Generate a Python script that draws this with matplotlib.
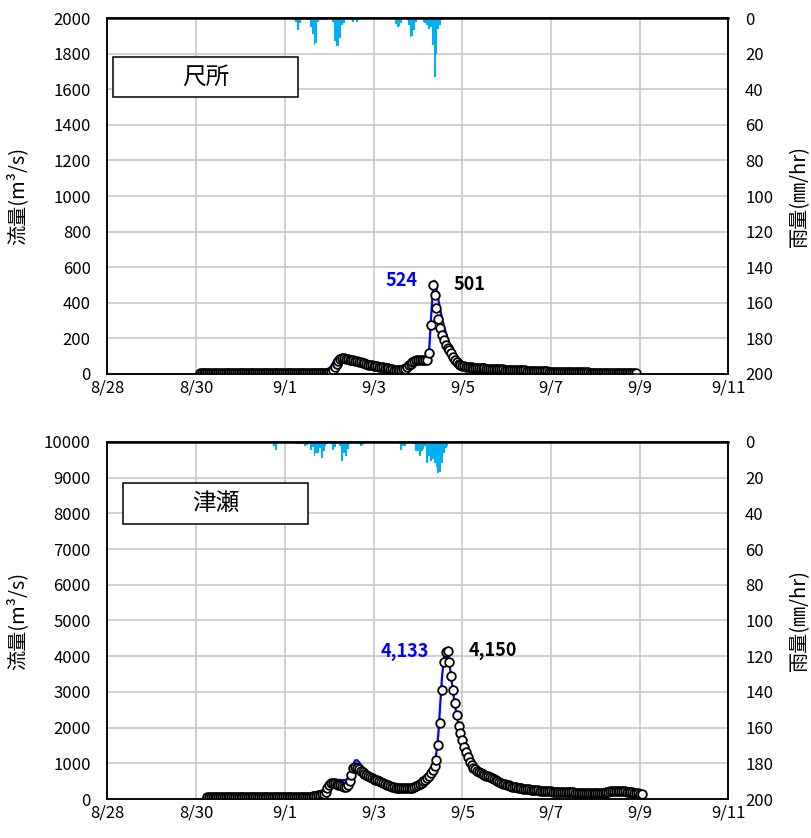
import pandas as pd
import matplotlib
matplotlib.use("Agg")
import matplotlib.pyplot as plt
import matplotlib.dates as mdates
from matplotlib.patches import Rectangle
from matplotlib.ticker import FuncFormatter

plt.rcParams['font.family'] = ['Noto Sans CJK JP', 'DejaVu Sans']

# ---- 尺所 (hourly) ----
shaku_obs_start = "2022-08-30 02:00"
shaku_obs = [
    6, 6, 6, 6, 6, 6, 6, 6, 6, 6, 6, 6, 6, 6, 6, 6, 6, 6, 6, 6, 6, 6,
    6, 6, 6, 6, 6, 5, 5, 5, 5, 5, 5, 5, 5, 5, 5, 5, 5, 5, 5, 5, 5, 5,
    5, 5, 5, 5, 5, 5, 5, 5, 5, 5, 5, 5, 5, 5, 5, 5, 5, 5, 5, 5, 5, 5, 5, 5,
    6, 7, 9, 14, 22, 40, 58, 75, 86, 90, 88, 85, 82, 80, 78, 76, 74, 71, 68, 65, 62, 59, 56, 53,
    51, 49, 47, 45, 43, 41, 39, 37, 35, 33, 31, 29, 27, 25, 24, 23, 23, 24, 26, 30, 38, 48, 58, 66,
    72, 76, 78, 79, 79, 79, 79, 80, 118, 275, 501, 444, 369, 309, 258, 219, 191, 163, 146, 135, 116, 97, 79, 65,
    57, 50, 46, 43, 41, 39, 38, 37, 36, 35, 34, 33, 32, 31, 31, 30, 30, 29, 29, 28, 28, 27, 27, 26,
    26, 25, 25, 24, 24, 23, 23, 22, 22, 21, 21, 20, 20, 19, 19, 18, 18, 17, 17, 16, 16, 16, 15, 15,
    15, 14, 14, 14, 13, 13, 13, 12, 12, 12, 11, 11, 11, 11, 10, 10, 10, 10, 9, 9, 9, 9, 9, 8,
    8, 8, 8, 8, 8, 8, 7, 7, 7, 7, 7, 7, 7, 7, 7, 6, 6, 6, 6, 6, 6, 6, 6, 6,
    6,
]
shaku_calc_start = "2022-08-30 02:00"
shaku_calc = [
    5, 5, 5, 5, 5, 5, 5, 5, 5, 5, 5, 5, 5, 5, 5, 5, 5, 5, 5, 5, 5, 5,
    5, 5, 5, 5, 5, 5, 5, 5, 5, 5, 5, 5, 5, 5, 5, 5, 5, 5, 5, 5, 5, 5,
    5, 5, 5, 5, 5, 5, 5, 5, 5, 5, 5, 5, 5, 5, 5, 5, 5, 5, 12, 22, 26, 26, 25, 24,
    23, 25, 32, 45, 62, 80, 94, 103, 107, 106, 100, 94, 89, 85, 81, 78, 75, 72, 69, 66, 63, 60, 57, 54,
    52, 50, 48, 46, 44, 42, 40, 38, 36, 34, 32, 30, 28, 27, 26, 25, 25, 26, 28, 32, 40, 50, 60, 68,
    74, 78, 80, 81, 81, 81, 81, 83, 120, 300, 460, 524, 480, 420, 365, 315, 272, 235, 200, 170, 145, 125, 108, 94,
    82, 72, 64, 58, 53, 49, 46, 43, 41, 39, 38, 36, 35, 34, 33, 32, 31, 30, 30, 29, 29, 28, 28, 27,
    27, 26, 26, 25, 25, 24, 24, 23, 23, 22, 22, 21, 21, 20, 20, 19, 19, 18, 18, 17, 17, 17, 16, 16,
    16, 15, 15, 15, 14, 14, 14, 13, 13, 13, 12, 12, 12, 12, 11, 11, 11, 11, 10, 10, 10, 10, 10, 9,
    9, 9, 9, 9, 9, 9, 8, 8, 8, 8, 8, 8, 8, 8, 8, 7, 7, 7, 7, 7, 7, 7, 7, 7,
    7,
]
shaku_rain_start = "2022-09-01 04:00"
shaku_rain = [
    0.5, 1, 2, 7, 3, 1, 0, 0.5, 1, 1, 5, 9, 15, 14, 2, 1, 0.5, 1, 0.5, 1, 0.5, 0, 2, 13,
    16, 16, 11, 4, 3, 0.5, 0, 0.5, 1, 2, 1, 2, 1, 0.5, 0, 0, 0, 0, 0, 0, 0, 0, 0, 0,
    0, 0, 0, 0, 0, 0, 0, 0.5, 3.5, 5, 4.5, 3, 0.5, 0, 1, 4, 10.5, 10, 7, 2, 0.5, 0, 0.5, 2,
    3, 4, 6, 5, 15, 33, 20, 6, 4, 1, 0.5,
]

# ---- 津瀬 (hourly) ----
tsuze_obs_start = "2022-08-30 06:00"
tsuze_obs = [
    50, 50, 50, 50, 50, 50, 50, 50, 50, 50, 50, 50, 50, 50, 50, 50, 50, 50,
    50, 50, 50, 50, 50, 51, 51, 51, 51, 51, 51, 51, 52, 52, 52, 52, 52, 52, 53, 53, 53, 53, 53, 53,
    54, 54, 55, 55, 56, 56, 57, 58, 59, 60, 61, 62, 63, 65, 68, 72, 78, 88, 100, 115, 130, 150, 200, 300,
    400, 450, 457, 440, 420, 400, 385, 365, 350, 345, 380, 500, 680, 880, 905, 880, 840, 790, 745, 705, 675, 645, 618, 592,
    568, 545, 520, 497, 475, 452, 430, 405, 385, 365, 345, 330, 318, 308, 302, 298, 296, 295, 295, 298, 302, 315, 335, 360,
    390, 425, 460, 495, 540, 590, 650, 720, 800, 920, 1092, 1512, 2120, 3053, 3846, 4126, 4150, 3846, 3445, 3053, 2680, 2353, 2045, 1840,
    1653, 1465, 1325, 1185, 1045, 952, 880, 830, 790, 755, 725, 700, 675, 655, 635, 615, 595, 570, 540, 510, 480, 455, 432, 412,
    395, 380, 365, 350, 338, 326, 315, 305, 296, 288, 281, 274, 267, 261, 255, 250, 246, 242, 238, 234, 230, 226, 222, 218,
    213, 208, 205, 203, 200, 198, 196, 194, 192, 190, 188, 186, 184, 182, 180, 178, 177, 176, 175, 174, 172, 170, 168, 166,
    165, 164, 163, 162, 160, 170, 190, 205, 215, 222, 228, 232, 232, 230, 225, 218, 212, 205, 200, 195, 188, 180, 170, 160,
    150, 140,
]
tsuze_calc_start = "2022-08-30 06:00"
tsuze_calc = [
    48, 48, 48, 48, 48, 48, 48, 48, 48, 48, 48, 48, 48, 48, 48, 48, 48, 48,
    49, 49, 49, 49, 49, 50, 50, 50, 50, 50, 50, 50, 51, 51, 51, 51, 51, 51, 52, 52, 52, 52, 52, 52,
    53, 53, 54, 54, 55, 55, 56, 57, 58, 59, 60, 61, 62, 64, 67, 71, 77, 80, 95, 120, 160, 220, 300, 380,
    450, 490, 515, 528, 533, 535, 535, 532, 530, 535, 560, 650, 820, 980, 1080, 1090, 1040, 970, 910, 860, 815, 770, 725, 680,
    640, 600, 565, 530, 500, 470, 442, 415, 390, 368, 350, 335, 322, 312, 305, 300, 298, 297, 298, 302, 310, 322, 340, 362,
    390, 420, 455, 495, 540, 595, 660, 740, 850, 1020, 1300, 1800, 2600, 3400, 3950, 4133, 4080, 3800, 3400, 3000, 2640, 2330, 2060, 1840,
    1660, 1500, 1360, 1230, 1110, 1010, 930, 865, 815, 775, 742, 712, 685, 660, 638, 616, 595, 573, 548, 520, 492, 466, 442, 420,
    401, 384, 368, 353, 340, 328, 317, 307, 298, 290, 283, 276, 269, 263, 257, 252, 248, 244, 240, 236, 232, 228, 224, 220,
    215, 210, 207, 204, 202, 200, 198, 196, 194, 192, 190, 188, 186, 184, 182, 180, 179, 178, 177, 176, 174, 172, 170, 168,
    167, 166, 165, 164, 162, 168, 185, 200, 212, 220, 226, 230, 231, 229, 224, 218, 211, 205, 199, 194, 187, 179, 170, 161,
    151, 141,
]
tsuze_rain_start = "2022-08-31 16:00"
tsuze_rain = [
    0.5, 0.5, 2, 4.5, 1, 0.5, 0.3, 0.3,
    0.5, 0.5, 0.5, 0.5, 0.5, 0.5, 1, 1.3, 1.3, 1, 1.3, 2.2, 1.5, 1, 4.3, 3, 7.8, 6, 6, 3.4, 8.8, 5, 2, 1,
    0.5, 1, 4.3, 3, 1, 0.5, 2, 10.7, 6, 7.8, 4, 1, 0.5, 0.5, 0.5, 0.5, 1, 2.2, 1.5, 1, 0.5, 0.3, 0.3, 0.3,
    0.3, 0.3, 0.3, 0, 0, 0, 0, 0, 0, 0, 0.3, 0.3, 0.3, 0.3, 1, 4.3, 2, 2.2, 1, 0.5, 0.5, 0.5, 1, 5.2,
    5, 8, 5, 4, 2, 11.6, 8, 10.8, 9.7, 11.6, 14, 17.4, 16.8, 11.8, 6, 3.4, 2, 0.5,
]

x_start, x_end = "2022-08-28", "2022-09-11"
date_ticks = pd.date_range(x_start, x_end, freq="2D")

RAIN_COLOR = "#00B0F0"
CALC_COLOR = "#0000FF"
GRID_COLOR = "#C8C8C8"


def hourly(start, values):
    return pd.date_range(start, periods=len(values), freq="h")


def month_day(x, pos=None):
    d = mdates.num2date(x)
    return f"{d.month}/{d.day}"


def draw_panel(ax, name, box, obs_start, obs, calc_start, calc,
               rain_start, rain, ymax, ystep):
    obs_t = hourly(obs_start, obs)
    calc_t = hourly(calc_start, calc)
    rain_t = hourly(rain_start, rain)

    ax.plot(calc_t, calc, color=CALC_COLOR, lw=1.6, zorder=3)
    ax.plot(obs_t, obs, ls="none", marker="o", ms=6.2, mfc="white",
            mec="black", mew=1.3, zorder=4)

    ax.set_xlim(pd.Timestamp(x_start), pd.Timestamp(x_end))
    ax.set_xticks(date_ticks)
    ax.xaxis.set_major_formatter(FuncFormatter(month_day))
    ax.set_ylim(0, ymax)
    ax.set_yticks(range(0, ymax + 1, ystep))
    ax.grid(True, color=GRID_COLOR, lw=1.2)
    ax.set_axisbelow(True)
    ax.tick_params(length=0, labelsize=12)
    ax.tick_params(axis="y", pad=12)
    ax.tick_params(axis="x", pad=4)
    for s in ax.spines.values():
        s.set_linewidth(1.1)
    ax.set_ylabel("流量(m³/s)", fontsize=14.5)
    ax.yaxis.set_label_coords(-0.128, 0.5)

    # peak values
    i_c = max(range(len(calc)), key=lambda i: calc[i])
    i_o = max(range(len(obs)), key=lambda i: obs[i])
    ax.annotate(f"{calc[i_c]:,}", (calc_t[i_c], calc[i_c]), xytext=(-12, 0),
                textcoords="offset points", ha="right", va="center",
                color=CALC_COLOR, fontsize=13, fontweight="bold", zorder=6)
    ax.annotate(f"{obs[i_o]:,}", (obs_t[i_o], obs[i_o]), xytext=(15, 0),
                textcoords="offset points", ha="left", va="center",
                color="black", fontsize=13, fontweight="bold", zorder=6)

    # station name box
    x0, y0, w, h = box
    ax.add_patch(Rectangle((x0, y0), w, h, transform=ax.transAxes,
                           facecolor="white", edgecolor="black", lw=1.1, zorder=5))
    ax.text(x0 + w / 2, y0 + h / 2, name, transform=ax.transAxes,
            ha="center", va="center", fontsize=17, zorder=6)

    # rainfall hanging from the top
    ax2 = ax.twinx()
    ax2.bar(rain_t, rain, width=1 / 24, color=RAIN_COLOR, align="center")
    ax2.set_ylim(200, 0)
    ax2.set_yticks(range(0, 201, 20))
    ax2.tick_params(length=0, labelsize=12, pad=12)
    for s in ax2.spines.values():
        s.set_linewidth(1.1)
    ax2.spines["top"].set_linewidth(1.8)
    ax2.set_ylabel("雨量(㎜/hr)", fontsize=14.5)
    ax2.yaxis.set_label_coords(1.097, 0.5)
    return ax2


fig = plt.figure(figsize=(8.11, 8.38), dpi=100)
ax_top = fig.add_axes([0.1325, 0.5537, 0.7657, 0.4248])
ax_bot = fig.add_axes([0.1325, 0.0465, 0.7657, 0.4261])

draw_panel(ax_top, "尺所", (0.009, 0.778, 0.298, 0.112),
           shaku_obs_start, shaku_obs, shaku_calc_start, shaku_calc,
           shaku_rain_start, shaku_rain, 2000, 200)
draw_panel(ax_bot, "津瀬", (0.025, 0.770, 0.298, 0.115),
           tsuze_obs_start, tsuze_obs, tsuze_calc_start, tsuze_calc,
           tsuze_rain_start, tsuze_rain, 10000, 1000)

fig.savefig("out.png", dpi=100)
